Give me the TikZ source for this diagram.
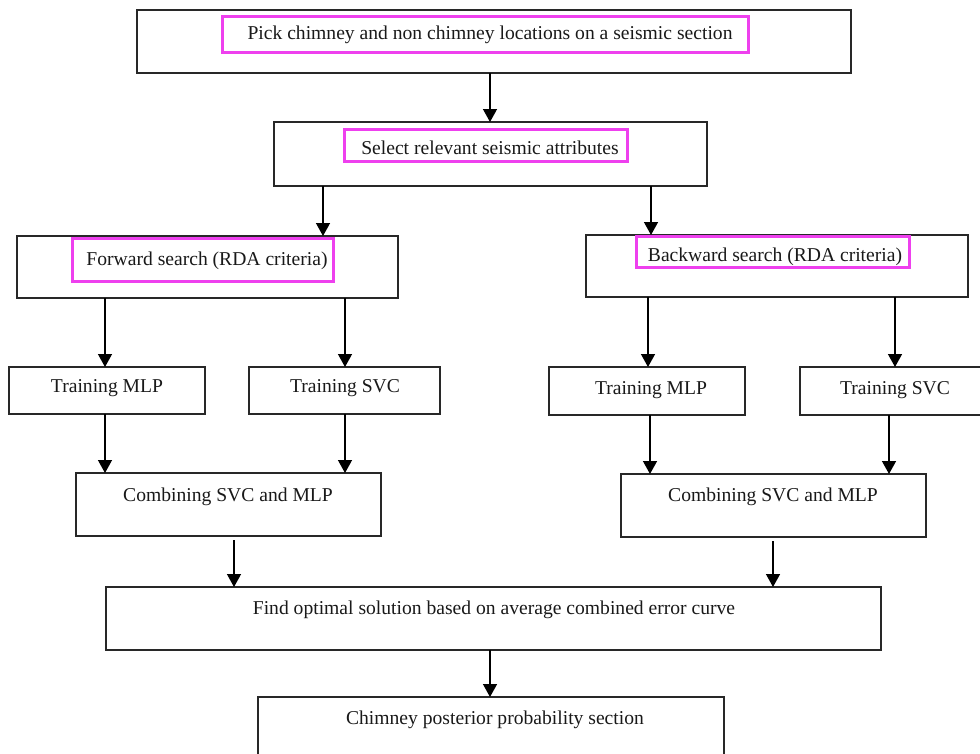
\documentclass[tikz,border=0pt]{standalone}
\usepackage{fontspec}
\setmainfont{Liberation Serif}
\usetikzlibrary{arrows.meta}
\definecolor{magb}{RGB}{238,64,238}
\definecolor{edge}{RGB}{40,40,40}
\begin{document}
\begin{tikzpicture}[x=1pt,y=-1pt,
  box/.style={draw=edge, line width=1.3pt, inner sep=0pt, outer sep=0pt},
  magbox/.style={draw=magb, line width=3pt, inner sep=0pt, outer sep=0pt},
  txt/.style={font=\fontsize{19.6}{22}\selectfont, inner sep=0pt, text=black!90},
  arr/.style={draw=black, line width=1.4pt, -{Triangle[width=14pt,length=13pt]}}]
\useasboundingbox (0,0) rectangle (980,753);
\clip (0,0) rectangle (980,753);
\fill[white] (0,0) rectangle (980,753);

% boxes
\node[box, minimum width=714pt, minimum height=63pt] (top) at (494,41.5) {};
\node[box, minimum width=433pt, minimum height=64pt] (sel) at (490.5,154) {};
\node[box, minimum width=381pt, minimum height=62pt] (fwd) at (207.5,267) {};
\node[box, minimum width=382pt, minimum height=62pt] (bwd) at (777,266) {};
\node[box, minimum width=196pt, minimum height=47pt] (mlpL) at (107,390.5) {};
\node[box, minimum width=191pt, minimum height=47pt] (svcL) at (344.5,390.5) {};
\node[box, minimum width=196pt, minimum height=48pt] (mlpR) at (647,391) {};
\node[box, minimum width=191pt, minimum height=48pt] (svcR) at (895.5,391) {};
\node[box, minimum width=305pt, minimum height=63pt] (combL) at (228.5,504.5) {};
\node[box, minimum width=305pt, minimum height=63pt] (combR) at (773.5,505.5) {};
\node[box, minimum width=775pt, minimum height=63pt] (find) at (493.5,618.5) {};
\node[box, minimum width=466pt, minimum height=63pt] (chim) at (491,728.5) {};

% magenta highlight boxes
\node[magbox, minimum width=526pt, minimum height=36pt] (topm) at (485,34.5) {};
\node[magbox, minimum width=283pt, minimum height=32pt] (selm) at (485.5,145) {};
\node[magbox, minimum width=261pt, minimum height=43pt] (fwdm) at (202.5,259.5) {};
\node[magbox, minimum width=273pt, minimum height=31pt] (bwdm) at (772.5,252) {};

% texts
\node[txt] (topt) at (490,35) {Pick chimney and non chimney locations on a seismic section};
\node[txt] (selt) at (490,147.5) {Select relevant seismic attributes};
\node[txt] (fwdt) at (207,260.5) {Forward search (RDA criteria)};
\node[txt] (bwdt) at (775,256.5) {Backward search (RDA criteria)};
\node[txt] (mlpLt) at (107,388.5) {Training MLP};
\node[txt] (svcLt) at (345,388.5) {Training SVC};
\node[txt] (mlpRt) at (651,390.5) {Training MLP};
\node[txt] (svcRt) at (895,390.5) {Training SVC};
\node[txt] (combLt) at (228,496.5) {Combining SVC and MLP};
\node[txt] (combRt) at (773,496.5) {Combining SVC and MLP};
\node[txt] (findt) at (494,609.5) {Find optimal solution based on average combined error curve};
\node[txt] (chimt) at (495,719.5) {Chimney posterior probability section};

% arrow x positions
\coordinate (x1) at (490,0);
\coordinate (x2) at (323,0);
\coordinate (x3) at (651,0);
\coordinate (x4) at (105,0);
\coordinate (x5) at (345,0);
\coordinate (x6) at (648,0);
\coordinate (x7) at (895,0);
\coordinate (x8) at (650,0);
\coordinate (x9) at (889,0);
\coordinate (x10) at (234,0);
\coordinate (x11) at (773,0);

% connectors
\draw[arr] (top.south -| x1) -- (sel.north -| x1);
\draw[arr] (sel.south -| x2) -- (fwd.north -| x2);
\draw[arr] (sel.south -| x3) -- (bwd.north -| x3);
\draw[arr] (fwd.south -| x4) -- (mlpL.north -| x4);
\draw[arr] (fwd.south -| x5) -- (svcL.north -| x5);
\draw[arr] (bwd.south -| x6) -- (mlpR.north -| x6);
\draw[arr] (bwd.south -| x7) -- (svcR.north -| x7);
\draw[arr] (mlpL.south -| x4) -- (combL.north -| x4);
\draw[arr] (svcL.south -| x5) -- (combL.north -| x5);
\draw[arr] (mlpR.south -| x8) -- (combR.north -| x8);
\draw[arr] (svcR.south -| x9) -- (combR.north -| x9);
\draw[arr, shorten <=4pt] (combL.south -| x10) -- (find.north -| x10);
\draw[arr, shorten <=4pt] (combR.south -| x11) -- (find.north -| x11);
\draw[arr] (find.south -| x1) -- (chim.north -| x1);
\end{tikzpicture}
\end{document}
